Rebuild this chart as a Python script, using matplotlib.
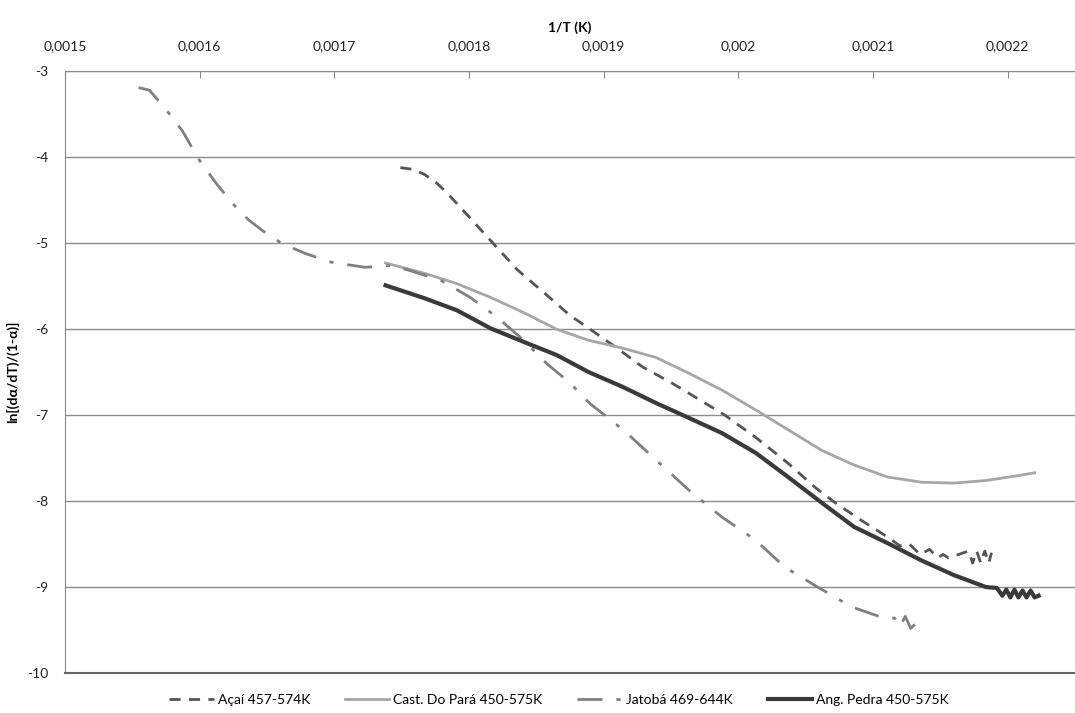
import matplotlib.pyplot as plt
from matplotlib.ticker import FuncFormatter, MultipleLocator

plt.rcParams['font.family'] = ['Lato', 'DejaVu Sans']

# Açaí 457-574K (dashed)
acai_x = [0.001749, 0.001758, 0.001767, 0.001776, 0.001784, 0.001801, 0.001819,
          0.001836, 0.001856, 0.001875, 0.001889, 0.001909, 0.001929, 0.001951,
          0.001968, 0.001990, 0.002013, 0.002037, 0.002057, 0.002072, 0.002091,
          0.002101, 0.002111, 0.002120, 0.002127, 0.002135, 0.002142, 0.002148,
          0.002152, 0.002156, 0.002160, 0.002171, 0.002174, 0.002177, 0.002180,
          0.002183, 0.002186, 0.002188]
acai_y = [-4.12, -4.14, -4.20, -4.30, -4.42, -4.71, -5.02,
          -5.31, -5.58, -5.84, -5.99, -6.21, -6.44, -6.63,
          -6.79, -7.00, -7.26, -7.56, -7.84, -8.02, -8.22,
          -8.32, -8.42, -8.52, -8.50, -8.62, -8.56, -8.66,
          -8.62, -8.66, -8.64, -8.58, -8.72, -8.58, -8.72,
          -8.58, -8.72, -8.60]

# Cast. Do Pará 450-575K (light solid)
cast_x = [0.001738, 0.001767, 0.001791, 0.001816, 0.001841, 0.001865, 0.001889,
          0.001914, 0.001939, 0.001963, 0.001988, 0.002013, 0.002037, 0.002062,
          0.002086, 0.002111, 0.002136, 0.002160, 0.002184, 0.002209, 0.002220]
cast_y = [-5.23, -5.35, -5.47, -5.63, -5.81, -6.00, -6.13,
          -6.22, -6.33, -6.51, -6.71, -6.94, -7.17, -7.41,
          -7.58, -7.72, -7.78, -7.79, -7.76, -7.70, -7.67]

# Jatobá 469-644K (dash-dot)
jat_x = [0.0015546, 0.0015627, 0.0015752, 0.001587, 0.0015996, 0.0016121,
         0.0016239, 0.0016364, 0.001649, 0.0016608, 0.0016785, 0.0016976,
         0.0017227, 0.0017419, 0.0017544, 0.0017788, 0.0018009, 0.0018208,
         0.0018407, 0.0018577, 0.0018746, 0.0018894, 0.0019145, 0.0019388,
         0.0019631, 0.0019882, 0.0020125, 0.0020347, 0.0020568, 0.0020841,
         0.0021062, 0.002112, 0.002116, 0.002120, 0.002124, 0.002128, 0.002132]
jat_y = [-3.19, -3.22, -3.45, -3.69, -4.03, -4.30,
         -4.53, -4.73, -4.88, -5.00, -5.12, -5.22,
         -5.28, -5.26, -5.31, -5.43, -5.63, -5.86,
         -6.13, -6.40, -6.62, -6.86, -7.17, -7.52,
         -7.87, -8.19, -8.45, -8.77, -8.98, -9.23,
         -9.35, -9.36, -9.36, -9.46, -9.34, -9.48, -9.42]

# Ang. Pedra 450-575K (dark solid)
ang_x = [0.001738, 0.001767, 0.001791, 0.001816, 0.001841, 0.001865, 0.001889,
         0.001914, 0.001939, 0.001963, 0.001988, 0.002013, 0.002037, 0.002062,
         0.002086, 0.002111, 0.002136, 0.002160, 0.002184, 0.002192, 0.002196,
         0.002199, 0.002202, 0.002205, 0.002208, 0.002211, 0.002214, 0.002217,
         0.002220, 0.002223]
ang_y = [-5.49, -5.64, -5.78, -5.99, -6.15, -6.30, -6.50,
         -6.67, -6.86, -7.03, -7.21, -7.44, -7.72, -8.02,
         -8.30, -8.49, -8.69, -8.86, -9.00, -9.01, -9.10,
         -9.03, -9.12, -9.03, -9.12, -9.04, -9.12, -9.04,
         -9.12, -9.10]

fig = plt.figure(figsize=(10.75, 7.13), dpi=100)
ax = fig.add_axes([0.0605, 0.056, 0.9395, 0.844])

ax.plot(acai_x, acai_y, color='#555555', lw=2, dashes=(4, 3), label='Açaí 457-574K')
ax.plot(cast_x, cast_y, color='#a6a6a6', lw=2, label='Cast. Do Pará 450-575K')
ax.plot(jat_x, jat_y, color='#808080', lw=2, dashes=(9, 5, 1.5, 5), label='Jatobá 469-644K')
ax.plot(ang_x, ang_y, color='#3a3a3a', lw=3, label='Ang. Pedra 450-575K')

ax.set_xlim(0.0015, 0.00225)
ax.set_ylim(-10, -3)
ax.xaxis.set_major_locator(MultipleLocator(0.0001))
ax.yaxis.set_major_locator(MultipleLocator(1))


def fmt_x(v, pos):
    if v > 0.002215:
        return ''
    s = f"{v:.4f}".rstrip('0')
    return s.replace('.', ',')


ax.xaxis.set_major_formatter(FuncFormatter(fmt_x))
ax.yaxis.set_major_formatter(FuncFormatter(lambda v, p: f"{v:.0f}"))

ax.xaxis.tick_top()
ax.xaxis.set_label_position('top')
ax.tick_params(axis='x', direction='in', length=5, color='#888888', labelsize=10,
               pad=14, labelcolor='#222222')
ax.tick_params(axis='y', length=0, labelsize=10, pad=12, labelcolor='#222222')

ax.grid(axis='y', color='#8c8c8c', lw=1)
ax.set_axisbelow(True)
ax.spines['right'].set_visible(False)
ax.spines['top'].set_color('#888888')
ax.spines['left'].set_color('#888888')
ax.spines['bottom'].set_color('#666666')
ax.spines['bottom'].set_linewidth(1.5)

ax.set_xlabel('1/T (K)', fontsize=10, fontweight='bold', labelpad=6)
ax.set_ylabel('ln[(dα/dT)/(1-α)]', fontsize=10, fontweight='bold', labelpad=6)

fig.legend(loc='lower center', bbox_to_anchor=(0.52, -0.008), ncol=4, frameon=False,
           fontsize=10, handlelength=3.2, columnspacing=2.5, handletextpad=0.3)

fig.savefig('out.png', dpi=100)
